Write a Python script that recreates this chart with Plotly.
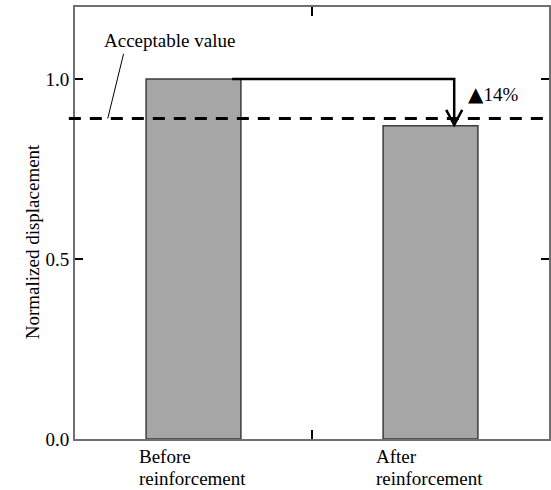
import plotly.graph_objects as go

categories = ["Before<br>reinforcement", "After<br>reinforcement"]
values = [1.0, 0.87]
acceptable = 0.89
reduction_label = "▲14%"
y_ticks = [0.0, 0.5, 1.0]
y_tick_labels = ["0.0", "0.5", "1.0"]
y_title = "Normalized displacement"
acceptable_label = "Acceptable value"

FONT = "Liberation Serif"
FS = 19
xpos = list(range(len(categories)))

fig = go.Figure()
fig.add_trace(go.Bar(
    x=xpos, y=values, width=0.4,
    marker=dict(color="#a6a6a6", line=dict(color="#3c3c3c", width=1.5)),
    showlegend=False, hoverinfo="skip",
))

shapes = []
# acceptable dashed line
shapes.append(dict(type="line", xref="paper", x0=-0.013, x1=1, yref="y",
                   y0=acceptable, y1=acceptable,
                   line=dict(color="black", width=3, dash="12px,9px")))
# leader line for label
shapes.append(dict(type="line", xref="x", yref="y", x0=-0.295, y0=1.07,
                   x1=-0.362, y1=acceptable, line=dict(color="black", width=1)))
# arrow path: from top of before bar across and down to after bar
ax = xpos[1] + 0.1
shapes.append(dict(type="path", xref="x", yref="y",
                   path=f"M {xpos[0]+0.163},{values[0]} L {ax},{values[0]} L {ax},{values[1]+0.004}",
                   line=dict(color="black", width=2.5)))
# open V arrowhead
shapes.append(dict(type="path", xref="x", yref="y", xsizemode="pixel", ysizemode="pixel",
                   xanchor=ax, yanchor=values[1],
                   path="M -8,16 L 0,1 L 8,16",
                   line=dict(color="black", width=2.5)))

annotations = []
annotations.append(dict(text=acceptable_label, x=-0.101, y=1.106, xref="x", yref="y",
                        showarrow=False, font=dict(family=FONT, size=FS, color="black")))
red_text = f"<span style='font-size:20px;font-family:DejaVu Sans'>{reduction_label[0]}</span>{reduction_label[1:]}"
annotations.append(dict(text=red_text, x=1.264, y=0.958, xref="x", yref="y",
                        showarrow=False, font=dict(family=FONT, size=FS, color="black")))
for xi, lab in zip(xpos, categories):
    for k, line in enumerate(lab.split("<br>")):
        annotations.append(dict(text=line, x=xi - 0.24, y=0, xref="x", yref="paper",
                                xanchor="left", yanchor="middle", yshift=-17 - 22 * k,
                                showarrow=False,
                                font=dict(family=FONT, size=FS, color="black")))
annotations.append(dict(text=y_title, x=-0.1165, y=0.456, xref="paper", yref="paper",
                        textangle=-90, showarrow=False,
                        font=dict(family=FONT, size=FS, color="black")))

fig.update_layout(
    width=551, height=490,
    margin=dict(l=75.3, r=2, t=7, b=51.3, autoexpand=False),
    paper_bgcolor="white", plot_bgcolor="white",
    shapes=shapes, annotations=annotations,
    font=dict(family=FONT, size=FS, color="black"),
    bargap=0.6,
)
fig.update_xaxes(range=[-0.5, 1.5], tickvals=[0.5], ticktext=[""], ticks="inside",
                 ticklen=9, tickcolor="black", tickwidth=1.5,
                 showline=True, linecolor="#707070", linewidth=2, mirror="ticks",
                 showgrid=False, zeroline=False, fixedrange=True)
fig.update_yaxes(range=[0, 1.2], tickvals=y_ticks, ticktext=y_tick_labels, ticks="inside",
                 ticklen=8, tickcolor="black", tickwidth=1.5,
                 showline=True, linecolor="#707070", linewidth=2, mirror="ticks",
                 showgrid=False, zeroline=False, automargin=False, fixedrange=True)

fig.write_html("out.html", config={"displayModeBar": False},
               post_script="document.body.style.margin='0';document.body.style.overflow='hidden';")
